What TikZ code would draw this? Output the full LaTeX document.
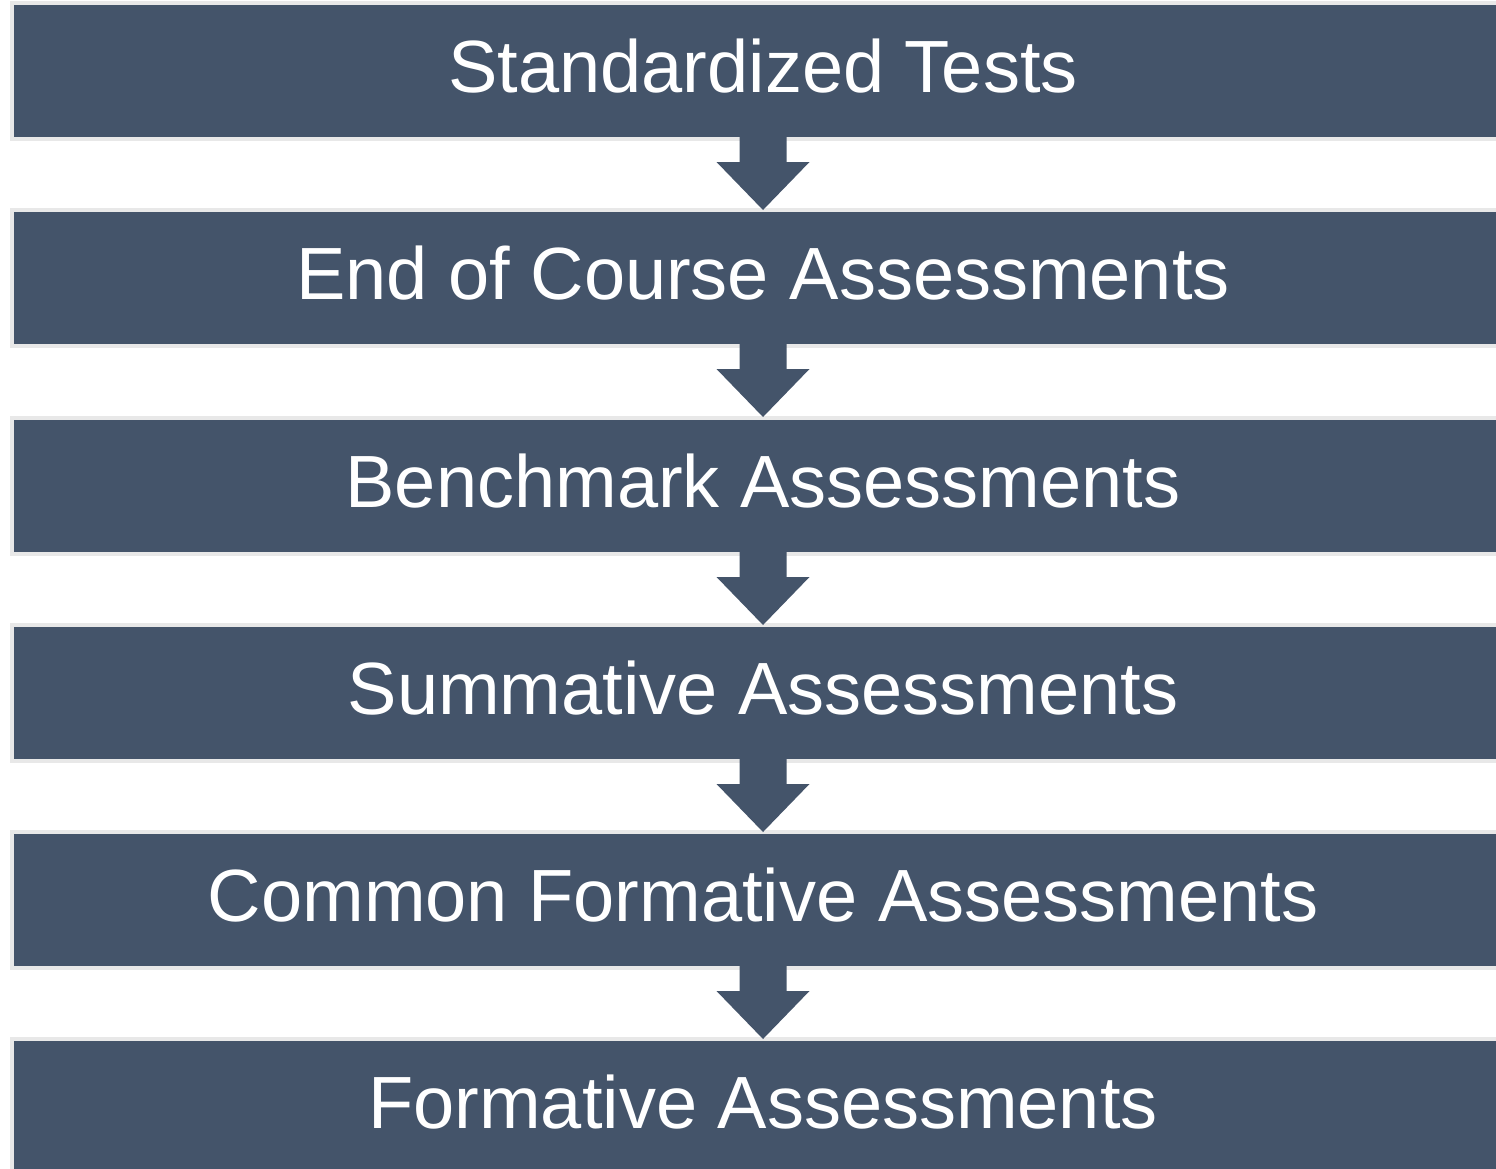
\documentclass[tikz,border=0pt]{standalone}
\usepackage{fontspec}
\setmainfont{Liberation Sans}
\definecolor{boxblue}{RGB}{68,84,106}
\definecolor{halo}{RGB}{232,232,232}
\begin{document}
\begin{tikzpicture}[x=1pt,y=-1pt,
  stagebox/.style={rectangle, fill=boxblue, inner sep=0pt, outer sep=0pt,
    minimum width=1498pt, minimum height=132pt, text=white,
    text height=87pt, text depth=45pt, font=\fontsize{74}{80}\selectfont},
  halobox/.style={fill=halo},
  downarrow/.style={fill=boxblue}]
\useasboundingbox (0,0) rectangle (1496,1168);
\clip (0,0) rectangle (1496,1168);
\foreach \t [count=\i] in {5,212,420,627,834,1041}{
  \fill[halo] (10,\t-4) rectangle (1520,\t+136);
}
\node[stagebox] (b1) at (763,71) {Standardized Tests};
\node[stagebox] (b2) at (763,278) {End of Course Assessments};
\node[stagebox] (b3) at (763,486) {Benchmark Assessments};
\node[stagebox] (b4) at (763,693) {Summative Assessments};
\node[stagebox] (b5) at (763,900) {Common Formative Assessments};
\node[stagebox] (b6) at (763,1107) {Formative Assessments};
\foreach \a/\b in {b1/b2,b2/b3,b3/b4,b4/b5,b5/b6}{
  \path[downarrow] (\a.south) ++(-23.5,-2) -- ++(0,27) -- ++(-23,0)
    -- ++(46.5,48) -- ++(46.5,-48) -- ++(-23,0) -- ++(0,-27) -- cycle;
}
\end{tikzpicture}
\end{document}
